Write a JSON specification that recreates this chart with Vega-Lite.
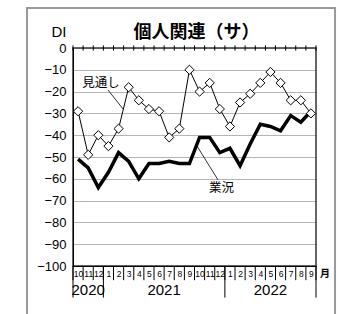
{
  "$schema": "https://vega.github.io/schema/vega-lite/v6.json",
  "width": 243,
  "height": 218,
  "autosize": {"type": "none"},
  "padding": {"left": 73, "top": 48, "right": 26, "bottom": 48},
  "background": "white",
  "title": {"text": "個人関連（サ）", "frame": "group", "font": "Noto Sans CJK JP", "fontSize": 18, "fontWeight": "bold", "color": "black", "anchor": "middle", "offset": -49, "baseline": "alphabetic", "dx": 2},
  "config": {"view": {"stroke": "#333", "strokeWidth": 1.5}, "font": "Liberation Sans"},
  "resolve": {"axis": {"x": "independent", "y": "independent"}},
  "datasets": {
    "series": [
      {"t": 0, "year": "2020", "month": "10", "outlook": -29, "business": -51},
      {"t": 1, "year": "2020", "month": "11", "outlook": -49, "business": -55},
      {"t": 2, "year": "2020", "month": "12", "outlook": -40, "business": -64},
      {"t": 3, "year": "2021", "month": "1", "outlook": -45, "business": -57},
      {"t": 4, "year": "2021", "month": "2", "outlook": -37, "business": -48},
      {"t": 5, "year": "2021", "month": "3", "outlook": -18, "business": -52},
      {"t": 6, "year": "2021", "month": "4", "outlook": -24, "business": -60},
      {"t": 7, "year": "2021", "month": "5", "outlook": -28, "business": -53},
      {"t": 8, "year": "2021", "month": "6", "outlook": -29, "business": -53},
      {"t": 9, "year": "2021", "month": "7", "outlook": -41, "business": -52},
      {"t": 10, "year": "2021", "month": "8", "outlook": -37, "business": -53},
      {"t": 11, "year": "2021", "month": "9", "outlook": -10, "business": -53},
      {"t": 12, "year": "2021", "month": "10", "outlook": -20, "business": -41},
      {"t": 13, "year": "2021", "month": "11", "outlook": -16, "business": -41},
      {"t": 14, "year": "2021", "month": "12", "outlook": -28, "business": -48},
      {"t": 15, "year": "2022", "month": "1", "outlook": -36, "business": -46},
      {"t": 16, "year": "2022", "month": "2", "outlook": -25, "business": -54},
      {"t": 17, "year": "2022", "month": "3", "outlook": -21, "business": -44},
      {"t": 18, "year": "2022", "month": "4", "outlook": -16, "business": -35},
      {"t": 19, "year": "2022", "month": "5", "outlook": -11, "business": -36},
      {"t": 20, "year": "2022", "month": "6", "outlook": -16, "business": -38},
      {"t": 21, "year": "2022", "month": "7", "outlook": -24, "business": -31},
      {"t": 22, "year": "2022", "month": "8", "outlook": -24, "business": -34},
      {"t": 23, "year": "2022", "month": "9", "outlook": -30, "business": -29}
    ],
    "bounds": [
      {"b": -0.5, "yearEdge": true}, {"b": 0.5, "yearEdge": false}, {"b": 1.5, "yearEdge": false},
      {"b": 2.5, "yearEdge": true}, {"b": 3.5, "yearEdge": false}, {"b": 4.5, "yearEdge": false},
      {"b": 5.5, "yearEdge": false}, {"b": 6.5, "yearEdge": false}, {"b": 7.5, "yearEdge": false},
      {"b": 8.5, "yearEdge": false}, {"b": 9.5, "yearEdge": false}, {"b": 10.5, "yearEdge": false},
      {"b": 11.5, "yearEdge": false}, {"b": 12.5, "yearEdge": false}, {"b": 13.5, "yearEdge": false},
      {"b": 14.5, "yearEdge": true}, {"b": 15.5, "yearEdge": false}, {"b": 16.5, "yearEdge": false},
      {"b": 17.5, "yearEdge": false}, {"b": 18.5, "yearEdge": false}, {"b": 19.5, "yearEdge": false},
      {"b": 20.5, "yearEdge": false}, {"b": 21.5, "yearEdge": false}, {"b": 22.5, "yearEdge": false},
      {"b": 23.5, "yearEdge": true}
    ]
  },
  "layer": [
    {
      "data": {"name": "series"},
      "mark": {"type": "line", "color": "black", "strokeWidth": 3.5},
      "encoding": {
        "x": {"field": "t", "type": "quantitative", "scale": {"domain": [-0.5, 23.5], "nice": false, "zero": false},
          "axis": {"orient": "bottom", "values": [0,1,2,3,4,5,6,7,8,9,10,11,12,13,14,15,16,17,18,19,20,21,22,23],
            "labelExpr": "['10','11','12','1','2','3','4','5','6','7','8','9','10','11','12','1','2','3','4','5','6','7','8','9'][datum.value]",
            "ticks": false, "domain": true, "domainColor": "black", "domainWidth": 1, "grid": false, "title": null,
            "labelFont": "Liberation Sans Narrow, Liberation Sans", "labelFontSize": 8.5, "labelColor": "black", "labelPadding": 3.5,
            "labelBound": false, "labelOverlap": false, "labelFlush": false}},
        "y": {"field": "business", "type": "quantitative", "scale": {"domain": [-100, 0], "nice": false},
          "axis": {"orient": "left", "values": [-100,-90,-80,-70,-60,-50,-40,-30,-20,-10,0], "ticks": false, "domainColor": "black", "domainWidth": 1,
            "labelExpr": "datum.value < 0 ? '\u2212' + abs(datum.value) : '0'",
            "labelFont": "Liberation Sans", "labelFontSize": 13, "labelColor": "black", "labelPadding": 7,
            "grid": true, "gridColor": "#444", "gridDash": [1, 1], "gridWidth": 0.8,
            "title": "DI", "titleAngle": 0, "titleX": -7, "titleY": -12, "titleAlign": "right", "titleBaseline": "alphabetic",
            "titleFont": "Liberation Sans", "titleFontSize": 15, "titleFontWeight": "normal", "titleColor": "black"}}
      }
    },
    {
      "data": {"name": "bounds"},
      "mark": {"type": "rule", "color": "black", "strokeWidth": 1},
      "encoding": {
        "x": {"field": "b", "type": "quantitative", "scale": {"domain": [-0.5, 23.5], "nice": false, "zero": false}, "axis": null},
        "y": {"datum": -100, "type": "quantitative", "scale": {"domain": [-100, 0], "nice": false}, "axis": null},
        "y2": {"datum": -106.5}
      }
    },
    {
      "data": {"name": "bounds"},
      "transform": [{"filter": "datum.yearEdge"}],
      "mark": {"type": "rule", "color": "black", "strokeWidth": 1},
      "encoding": {
        "x": {"field": "b", "type": "quantitative", "scale": {"domain": [-0.5, 23.5], "nice": false, "zero": false}, "axis": null},
        "y": {"datum": -100, "type": "quantitative", "scale": {"domain": [-100, 0], "nice": false}, "axis": null},
        "y2": {"datum": -114.5}
      }
    },
    {
      "data": {"name": "bounds"},
      "mark": {"type": "rule", "color": "black", "strokeWidth": 1},
      "encoding": {
        "x": {"field": "b", "type": "quantitative", "scale": {"domain": [-0.5, 23.5], "nice": false, "zero": false}, "axis": null},
        "y": {"datum": 1.2, "type": "quantitative", "scale": {"domain": [-100, 0], "nice": false}, "axis": null},
        "y2": {"datum": -1.2}
      }
    },
    {
      "data": {"name": "series"},
      "mark": {"type": "line", "color": "black", "strokeWidth": 1},
      "encoding": {
        "x": {"field": "t", "type": "quantitative", "scale": {"domain": [-0.5, 23.5], "nice": false, "zero": false}, "axis": null},
        "y": {"field": "outlook", "type": "quantitative", "scale": {"domain": [-100, 0], "nice": false}, "axis": null}
      }
    },
    {
      "data": {"name": "series"},
      "mark": {"type": "point", "shape": "diamond", "filled": true, "fill": "white", "stroke": "black", "strokeWidth": 1, "size": 85, "opacity": 1},
      "encoding": {
        "x": {"field": "t", "type": "quantitative", "scale": {"domain": [-0.5, 23.5], "nice": false, "zero": false}, "axis": null},
        "y": {"field": "outlook", "type": "quantitative", "scale": {"domain": [-100, 0], "nice": false}, "axis": null}
      }
    },
    {
      "data": {"values": [{}]},
      "mark": {"type": "rule", "color": "black", "strokeWidth": 0.8},
      "encoding": {
        "x": {"datum": 2.96, "type": "quantitative", "scale": {"domain": [-0.5, 23.5], "nice": false, "zero": false}, "axis": null},
        "x2": {"datum": 4.45},
        "y": {"datum": -19.3, "type": "quantitative", "scale": {"domain": [-100, 0], "nice": false}, "axis": null},
        "y2": {"datum": -28}
      }
    },
    {
      "data": {"values": [{}]},
      "mark": {"type": "rule", "color": "black", "strokeWidth": 0.8},
      "encoding": {
        "x": {"datum": 11.75, "type": "quantitative", "scale": {"domain": [-0.5, 23.5], "nice": false, "zero": false}, "axis": null},
        "x2": {"datum": 13.82},
        "y": {"datum": -45, "type": "quantitative", "scale": {"domain": [-100, 0], "nice": false}, "axis": null},
        "y2": {"datum": -60.5}
      }
    },
    {
      "data": {"values": [{"label": "見通し"}]},
      "mark": {"type": "text", "font": "Noto Sans CJK JP", "fontSize": 12.5, "color": "black", "align": "center", "baseline": "middle"},
      "encoding": {
        "x": {"datum": 2.27, "type": "quantitative", "scale": {"domain": [-0.5, 23.5], "nice": false, "zero": false}, "axis": null},
        "y": {"datum": -16, "type": "quantitative", "scale": {"domain": [-100, 0], "nice": false}, "axis": null},
        "text": {"field": "label"}
      }
    },
    {
      "data": {"values": [{"label": "業況"}]},
      "mark": {"type": "text", "font": "Noto Sans CJK JP", "fontSize": 12.5, "color": "black", "align": "center", "baseline": "middle"},
      "encoding": {
        "x": {"datum": 14.17, "type": "quantitative", "scale": {"domain": [-0.5, 23.5], "nice": false, "zero": false}, "axis": null},
        "y": {"datum": -64.2, "type": "quantitative", "scale": {"domain": [-100, 0], "nice": false}, "axis": null},
        "text": {"field": "label"}
      }
    },
    {
      "data": {"name": "series"},
      "transform": [{"aggregate": [{"op": "mean", "field": "t", "as": "center"}], "groupby": ["year"]}],
      "mark": {"type": "text", "font": "Liberation Sans", "fontSize": 15, "color": "black", "align": "center", "baseline": "middle"},
      "encoding": {
        "x": {"field": "center", "type": "quantitative", "scale": {"domain": [-0.5, 23.5], "nice": false, "zero": false}, "axis": null},
        "y": {"datum": -111, "type": "quantitative", "scale": {"domain": [-100, 0], "nice": false}, "axis": null},
        "text": {"field": "year"}
      }
    },
    {
      "data": {"values": [{"label": "月"}]},
      "mark": {"type": "text", "font": "Noto Sans CJK JP", "fontSize": 10, "fontWeight": "bold", "color": "black", "align": "center", "baseline": "middle"},
      "encoding": {
        "x": {"datum": 24.39, "type": "quantitative", "scale": {"domain": [-0.5, 23.5], "nice": false, "zero": false}, "axis": null},
        "y": {"datum": -103.7, "type": "quantitative", "scale": {"domain": [-100, 0], "nice": false}, "axis": null},
        "text": {"field": "label"}
      }
    },
    {
      "data": {"values": [{}]},
      "mark": {"type": "rect", "filled": false, "fill": null, "stroke": "#999", "strokeWidth": 2},
      "encoding": {
        "x": {"datum": -5.04, "type": "quantitative", "scale": {"domain": [-0.5, 23.5], "nice": false, "zero": false}, "axis": null},
        "x2": {"datum": 25.38},
        "y": {"datum": 18.4, "type": "quantitative", "scale": {"domain": [-100, 0], "nice": false}, "axis": null},
        "y2": {"datum": -125}
      }
    }
  ]
}
